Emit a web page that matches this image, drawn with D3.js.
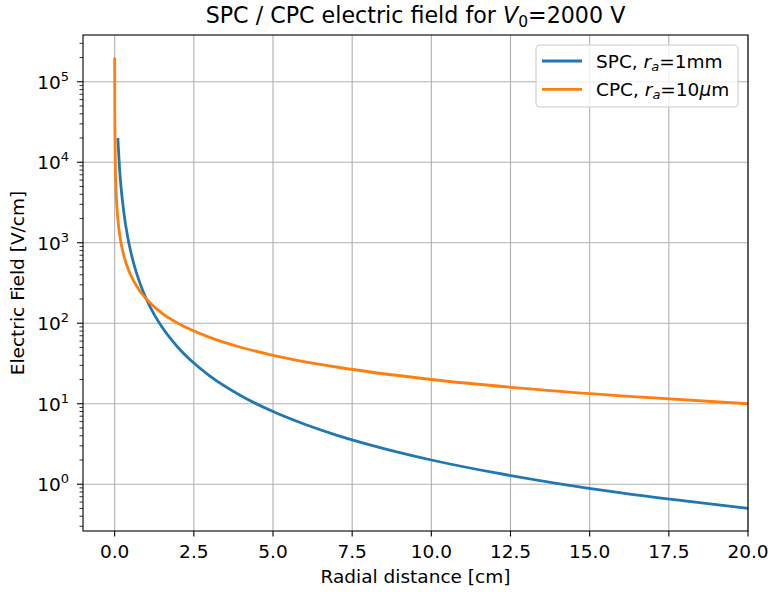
<!DOCTYPE html>
<html>
<head>
<meta charset="utf-8">
<script src="https://cdn.jsdelivr.net/npm/d3@7"></script>
<style>
body { margin: 0; background: #fff; }
svg { font-family: "DejaVu Sans", sans-serif; }
</style>
</head>
<body>
<svg width="771" height="592"></svg>
<script>
// values
var spcR = [0.1, 0.15, 0.2, 0.3, 0.4, 0.5, 0.6, 0.8, 1, 1.25, 1.5, 2, 2.5, 3, 4, 5, 6, 7, 8, 10, 12, 14, 16, 18, 20];
var spcE = [20000, 8900, 5000, 2220, 1250, 800, 556, 313, 200, 128, 89, 50, 32, 22.2, 12.5, 8, 5.56, 4.08, 3.13, 2, 1.39, 1.02, 0.78, 0.62, 0.5];
var cpcR = [0.001, 0.002, 0.005, 0.01, 0.02, 0.05, 0.1, 0.2, 0.3, 0.5, 0.75, 1, 1.5, 2, 3, 4, 5, 7, 10, 13, 16, 20];
var cpcE = [200000, 100000, 40000, 20000, 10000, 4000, 2000, 1000, 667, 400, 267, 200, 133, 100, 66.7, 50, 40, 28.6, 20, 15.4, 12.5, 10];
var xTicks = [0, 2.5, 5, 7.5, 10, 12.5, 15, 17.5, 20];
var yExps = [0, 1, 2, 3, 4, 5];

var svg = d3.select("svg");
var pl = 83, pr = 748, pt = 35, pb = 531;
var fs = 18.5;

var x = d3.scaleLinear().domain([-1, 20]).range([pl, pr]);
var y = d3.scaleLog().domain([Math.pow(10, -0.581), Math.pow(10, 5.581)]).range([pb, pt]);

// grid
svg.append("g").selectAll("line")
  .data(xTicks).enter().append("line")
  .attr("x1", d => x(d)).attr("x2", d => x(d))
  .attr("y1", pt).attr("y2", pb)
  .attr("stroke", "#b0b0b0").attr("stroke-width", 1.1);
svg.append("g").selectAll("line")
  .data(yExps).enter().append("line")
  .attr("y1", d => y(Math.pow(10, d))).attr("y2", d => y(Math.pow(10, d)))
  .attr("x1", pl).attr("x2", pr)
  .attr("stroke", "#b0b0b0").attr("stroke-width", 1.1);

// curves
var line = d3.line()
  .x(d => x(d[0]))
  .y(d => y(d[1]))
  .curve(d3.curveMonotoneX);

svg.append("path")
  .datum(d3.zip(spcR, spcE))
  .attr("d", line)
  .attr("fill", "none").attr("stroke", "#1f77b4").attr("stroke-width", 2.8);
svg.append("path")
  .datum(d3.zip(cpcR, cpcE))
  .attr("d", line)
  .attr("fill", "none").attr("stroke", "#ff7f0e").attr("stroke-width", 2.8);

// spines
svg.append("rect")
  .attr("x", pl).attr("y", pt)
  .attr("width", pr - pl).attr("height", pb - pt)
  .attr("fill", "none").attr("stroke", "#000").attr("stroke-width", 1.1);

// x axis
var xAxis = svg.append("g").attr("transform", "translate(0," + pb + ")");
xAxis.selectAll("line").data(xTicks).enter().append("line")
  .attr("x1", d => x(d)).attr("x2", d => x(d))
  .attr("y1", 0).attr("y2", 5.5)
  .attr("stroke", "#000").attr("stroke-width", 1.1);
xAxis.selectAll("text").data(xTicks).enter().append("text")
  .attr("x", d => x(d)).attr("y", 27)
  .attr("text-anchor", "middle")
  .attr("font-size", fs)
  .text(d => d.toFixed(1));

// y axis
var minor = [];
for (var e = -1; e <= 5; e++) {
  for (var m = 2; m <= 9; m++) {
    var v = m * Math.pow(10, e);
    if (v >= y.domain()[0] && v <= y.domain()[1]) minor.push(v);
  }
}
var yAxis = svg.append("g").attr("transform", "translate(" + pl + ",0)");
yAxis.selectAll("line.minor").data(minor).enter().append("line")
  .attr("x1", 0).attr("x2", -3.5)
  .attr("y1", d => y(d)).attr("y2", d => y(d))
  .attr("stroke", "#000").attr("stroke-width", 0.8);
yAxis.selectAll("line.major").data(yExps).enter().append("line")
  .attr("x1", 0).attr("x2", -6)
  .attr("y1", d => y(Math.pow(10, d))).attr("y2", d => y(Math.pow(10, d)))
  .attr("stroke", "#000").attr("stroke-width", 1.1);
var yl = yAxis.selectAll("text").data(yExps).enter().append("text")
  .attr("x", -14).attr("y", d => y(Math.pow(10, d)) + 7)
  .attr("text-anchor", "end")
  .attr("font-size", fs);
yl.append("tspan").text("10");
yl.append("tspan").attr("font-size", 13).attr("dy", -8).text(d => d);

// labels
svg.append("text")
  .attr("x", (pl + pr) / 2).attr("y", 583)
  .attr("text-anchor", "middle").attr("font-size", fs)
  .text("Radial distance [cm]");
svg.append("text")
  .attr("transform", "translate(24," + (pt + pb) / 2 + ") rotate(-90)")
  .attr("text-anchor", "middle").attr("font-size", fs)
  .text("Electric Field [V/cm]");

var title = svg.append("text")
  .attr("x", (pl + pr) / 2).attr("y", 23)
  .attr("text-anchor", "middle").attr("font-size", 22.2);
title.append("tspan").text("SPC / CPC electric field for ");
title.append("tspan").attr("font-style", "italic").text("V");
title.append("tspan").attr("font-size", 15.5).attr("dy", 3.5).text("0");
title.append("tspan").attr("dy", -3.5).text("=2000 V");

// legend
var lg = svg.append("g").attr("transform", "translate(536,45)");
lg.append("rect")
  .attr("width", 202).attr("height", 62).attr("rx", 4)
  .attr("fill", "#fff").attr("fill-opacity", 0.8)
  .attr("stroke", "#cccccc").attr("stroke-width", 1.1);
var entries = [
  {c: "#1f77b4", pre: "SPC, ", post: "=1mm", mu: false},
  {c: "#ff7f0e", pre: "CPC, ", post: "m", mu: true}
];
entries.forEach(function(d, i) {
  var yy = 16 + i * 28.3;
  lg.append("line")
    .attr("x1", 6).attr("x2", 46).attr("y1", yy).attr("y2", yy)
    .attr("stroke", d.c).attr("stroke-width", 2.8);
  var t = lg.append("text").attr("x", 60).attr("y", yy + 6.5).attr("font-size", fs);
  t.append("tspan").text(d.pre);
  t.append("tspan").attr("font-style", "italic").text("r");
  t.append("tspan").attr("font-style", "italic").attr("font-size", 13).attr("dy", 3.5).text("a");
  if (d.mu) {
    t.append("tspan").attr("dy", -3.5).text("=10");
    t.append("tspan").attr("font-style", "italic").text("\u03bc");
    t.append("tspan").text(d.post);
  } else {
    t.append("tspan").attr("dy", -3.5).text(d.post);
  }
});
</script>
</body>
</html>
